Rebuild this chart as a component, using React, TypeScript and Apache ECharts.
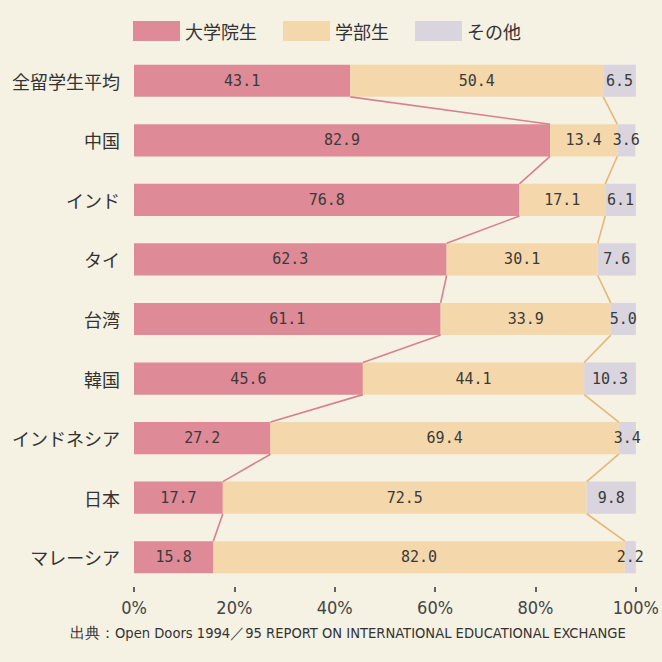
import React, { useEffect, useRef } from "react";
import * as echarts from "echarts";

const categories = ["全留学生平均", "中国", "インド", "タイ", "台湾", "韓国", "インドネシア", "日本", "マレーシア"];
const graduate = [43.1, 82.9, 76.8, 62.3, 61.1, 45.6, 27.2, 17.7, 15.8];
const undergraduate = [50.4, 13.4, 17.1, 30.1, 33.9, 44.1, 69.4, 72.5, 82.0];
const others = [6.5, 3.6, 6.1, 7.6, 5.0, 10.3, 3.4, 9.8, 2.2];
const seriesNames = ["大学院生", "学部生", "その他"];
const xTicks = [0, 20, 40, 60, 80, 100];
const sourceText = "出典：Open Doors 1994／95 REPORT ON INTERNATIONAL EDUCATIONAL EXCHANGE";

const GAP = 0.46;

export default function App() {
  const ref = useRef<HTMLDivElement>(null);
  useEffect(() => {
    if (!ref.current) return;
    const chart = echarts.init(ref.current, null, { renderer: "svg" });
    const gradEnd = graduate.slice();
    const underEnd = graduate.map((g, i) => g + undergraduate[i]);
    const pinkLinks = [] as number[][];
    const orangeLinks = [] as number[][];
    for (let i = 0; i < categories.length - 1; i++) {
      pinkLinks.push([gradEnd[i], i, gradEnd[i + 1], i + 1]);
      orangeLinks.push([underEnd[i], i, underEnd[i + 1], i + 1]);
    }
    const linkRender = (color: string) => (params: any, api: any) => {
      const p1 = api.coord([api.value(0), api.value(1)]);
      const p2 = api.coord([api.value(2), api.value(3)]);
      const band = api.size([0, 1])[1];
      const half = (band * (1 - GAP)) / 2;
      return {
        type: "line",
        shape: { x1: p1[0], y1: p1[1] + half, x2: p2[0], y2: p2[1] - half },
        style: { stroke: color, lineWidth: 1.6 },
      };
    };
    const labelStyle = {
      show: true,
      position: "inside",
      fontFamily: "DejaVu Sans Mono",
      fontSize: 15,
      color: "#3a3a3a",
      formatter: (p: any) => Number(p.value).toFixed(1),
    };
    const colors = ["#de8a97", "#f4d8ab", "#d9d4dd"];
    const values = [graduate, undergraduate, others];
    const barSeries = values.map((vals, k) => ({
      type: "bar",
      name: seriesNames[k],
      stack: "total",
      barCategoryGap: "46%",
      data: vals,
      itemStyle: { color: colors[k] },
      label: labelStyle,
      z: 2,
    }));
    chart.setOption({
      animation: false,
      backgroundColor: "#f5f1e3",
      color: colors,
      legend: {
        top: 16,
        left: 128,
        itemWidth: 47,
        itemHeight: 20,
        itemGap: 26,
        icon: "rect",
        data: seriesNames,
        textStyle: { fontSize: 18, color: "#333", fontFamily: "Noto Sans CJK JP" },
      },
      grid: { left: 134, right: 22, top: 51, bottom: 75 },
      xAxis: {
        type: "value",
        min: 0,
        max: 100,
        interval: 20,
        axisLine: { show: false },
        splitLine: { show: false },
        axisTick: { show: true, length: 5, lineStyle: { color: "#333", width: 1.5 } },
        axisLabel: {
          margin: 11,
          fontSize: 18,
          color: "#444",
          fontFamily: "Liberation Sans Narrow, DejaVu Sans Condensed, sans-serif",
          formatter: (v: number) => (xTicks.includes(v) ? v + "%" : ""),
        },
      },
      yAxis: {
        type: "category",
        inverse: true,
        data: categories,
        axisLine: { show: false },
        axisTick: { show: false },
        axisLabel: { margin: 14, fontSize: 18, color: "#333", fontFamily: "Noto Sans CJK JP" },
      },
      graphic: [
        {
          type: "text",
          left: 70,
          top: 625,
          style: {
            text: sourceText,
            fontSize: 14.6,
            fill: "#333",
            fontFamily: "Liberation Sans Narrow, DejaVu Sans Condensed, sans-serif",
          },
        },
      ],
      series: [
        ...barSeries,
        {
          type: "custom",
          coordinateSystem: "cartesian2d",
          renderItem: linkRender("#d9808d"),
          data: pinkLinks,
          encode: { x: [0, 2], y: [1, 3] },
          z: 3,
          silent: true,
        },
        {
          type: "custom",
          coordinateSystem: "cartesian2d",
          renderItem: linkRender("#e8b676"),
          data: orangeLinks,
          encode: { x: [0, 2], y: [1, 3] },
          z: 3,
          silent: true,
        },
      ],
    });
    return () => chart.dispose();
  }, []);
  return (
    <div
      ref={ref}
      style={{ position: "fixed", left: 0, top: 0, width: 662, height: 662, background: "#f5f1e3" }}
    />
  );
}
